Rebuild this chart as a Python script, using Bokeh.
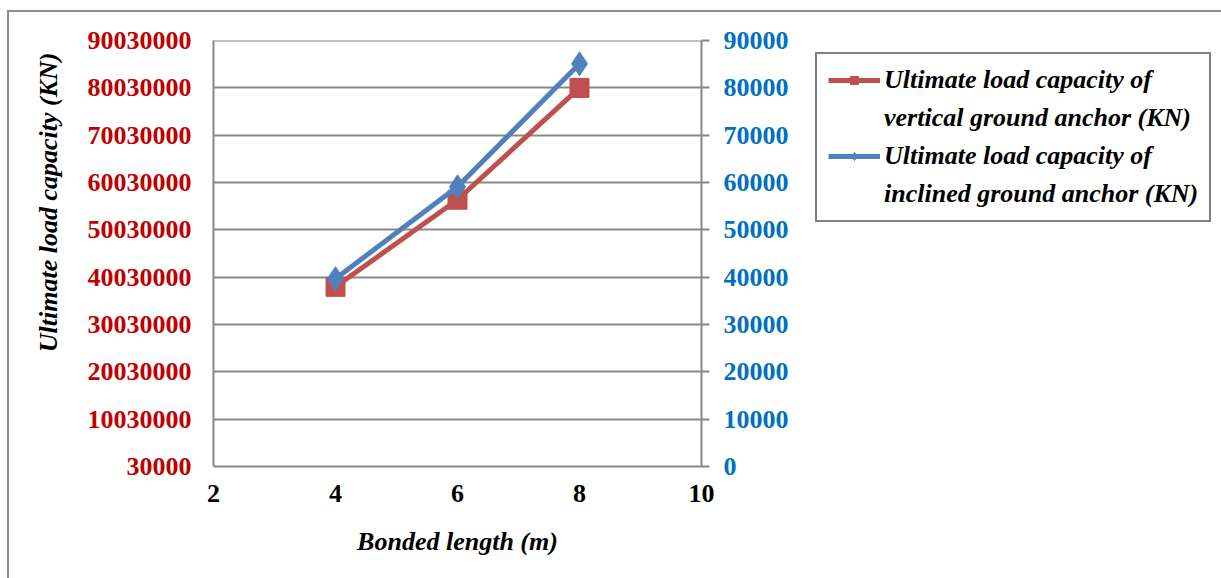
from bokeh.plotting import figure
from bokeh.layouts import row
from bokeh.models import (Range1d, LinearAxis, FixedTicker, Legend, LegendItem, Title)
from bokeh.embed import file_html
from bokeh.resources import INLINE

# ---- data ----
bonded_length = [4, 6, 8]
vertical_capacity = [38000000, 56400000, 80030000]   # left axis (red)
inclined_capacity = [39700, 59100, 85100]            # right axis (blue)

x_ticks = [2, 4, 6, 8, 10]
left_ticks = [30000, 10030000, 20030000, 30030000, 40030000, 50030000,
              60030000, 70030000, 80030000, 90030000]
right_ticks = [0, 10000, 20000, 30000, 40000, 50000, 60000, 70000, 80000, 90000]

x_title = "Bonded length (m)"
y_title = "Ultimate load capacity (KN)"
label_vertical = ["Ultimate load capacity of", "vertical ground anchor (KN)"]
label_inclined = ["Ultimate load capacity of", "inclined ground anchor (KN)"]

RED = "#C0504D"
BLUE = "#4F81BD"
GRID = "#888888"
FONT = "Liberation Serif"
FS = "26px"

# ---------- main chart ----------
p = figure(width=794, height=566, output_backend="svg", toolbar_location=None,
           x_range=Range1d(x_ticks[0], x_ticks[-1]),
           y_range=Range1d(left_ticks[0], left_ticks[-1] + 20000),
           min_border_left=200, min_border_right=102, min_border_top=28,
           min_border_bottom=112)
p.outline_line_color = None
p.background_fill_color = "white"
p.border_fill_color = "white"

p.extra_y_ranges = {"right": Range1d(right_ticks[0], right_ticks[-1] + 20)}

# x axis
xa = p.xaxis[0]
xa.ticker = FixedTicker(ticks=x_ticks)
xa.axis_label = x_title
xa.axis_label_text_font = FONT
xa.axis_label_text_font_size = FS
xa.axis_label_text_font_style = "bold italic"
xa.axis_label_text_color = "black"
xa.axis_label_standoff = 22
xa.major_label_text_font = FONT
xa.major_label_text_font_size = FS
xa.major_label_text_font_style = "bold"
xa.major_label_text_color = "black"
xa.major_label_standoff = 18
xa.major_tick_in = 0
xa.major_tick_out = 0
xa.minor_tick_in = 0
xa.minor_tick_out = 0
xa.axis_line_color = GRID
xa.axis_line_width = 2

# left axis
ya = p.yaxis[0]
ya.ticker = FixedTicker(ticks=left_ticks)
ya.major_label_overrides = {t: str(t) for t in left_ticks}
ya.major_label_text_font = FONT
ya.major_label_text_font_size = FS
ya.major_label_text_font_style = "bold"
ya.major_label_text_color = "#C00000"
ya.major_label_standoff = 22
ya.major_tick_in = 0
ya.major_tick_out = 0
ya.minor_tick_in = 0
ya.minor_tick_out = 0
ya.axis_line_color = GRID
ya.axis_line_width = 2

# left title (vertical), anchored near the top like the reference
yt = Title(text=y_title, align="right", offset=12, standoff=44,
           text_font=FONT, text_font_size=FS, text_font_style="bold italic",
           text_color="black")
p.add_layout(yt, "left")

# right axis
ra = LinearAxis(y_range_name="right", ticker=FixedTicker(ticks=right_ticks))
ra.major_label_overrides = {t: str(t) for t in right_ticks}
ra.major_label_text_font = FONT
ra.major_label_text_font_size = FS
ra.major_label_text_font_style = "bold"
ra.major_label_text_color = "#0070C0"
ra.major_label_standoff = 14
ra.major_tick_in = 0
ra.major_tick_out = 8
ra.major_tick_line_color = GRID
ra.major_tick_line_width = 2
ra.minor_tick_in = 0
ra.minor_tick_out = 0
ra.axis_line_color = GRID
ra.axis_line_width = 2
p.add_layout(ra, "right")

p.xgrid.grid_line_color = None
p.ygrid.ticker = FixedTicker(ticks=left_ticks)
p.ygrid.grid_line_color = GRID
p.ygrid.grid_line_width = 2

# series
p.line(bonded_length, vertical_capacity, line_color=RED, line_width=5)
p.scatter(bonded_length, vertical_capacity, marker="square", size=19,
          fill_color=RED, line_color=RED)
p.line(bonded_length, inclined_capacity, line_color=BLUE, line_width=5,
       y_range_name="right")
p.scatter(bonded_length, inclined_capacity, marker="diamond", size=24,
          fill_color=BLUE, line_color=BLUE, y_range_name="right")

# ---------- legend panel (separate canvas so the box is not clipped) ----------
q = figure(width=418, height=566, output_backend="svg", toolbar_location=None,
           x_axis_location=None, y_axis_location=None,
           x_range=Range1d(x_ticks[0], x_ticks[-1]),
           y_range=Range1d(left_ticks[0], left_ticks[-1]),
           min_border=0)
q.outline_line_color = None
q.grid.grid_line_color = None
q.background_fill_color = "white"
q.border_fill_color = "white"

lr_line = q.line(bonded_length, vertical_capacity, line_color=RED, line_width=5, visible=False)
lr_mark = q.scatter(bonded_length, vertical_capacity, marker="square", size=14,
                    fill_color=RED, line_color=RED, visible=False)
lb_line = q.line(bonded_length, vertical_capacity, line_color=BLUE, line_width=5, visible=False)
lb_mark = q.scatter(bonded_length, vertical_capacity, marker="diamond", size=18,
                    fill_color=BLUE, line_color=BLUE, visible=False)

legend = Legend(items=[
    LegendItem(label=label_vertical[0], renderers=[lr_line, lr_mark]),
    LegendItem(label=label_vertical[1], renderers=[]),
    LegendItem(label=label_inclined[0], renderers=[lb_line, lb_mark]),
    LegendItem(label=label_inclined[1], renderers=[]),
], location="top_left")
legend.label_text_font = FONT
legend.label_text_font_size = FS
legend.label_text_font_style = "bold italic"
legend.label_text_color = "black"
legend.border_line_color = "black"
legend.border_line_width = 2
legend.background_fill_alpha = 1
legend.inactive_fill_alpha = 0
legend.glyph_width = 52
legend.glyph_height = 20
legend.label_height = 26
legend.label_standoff = 4
legend.padding = 11
legend.spacing = 8
legend.margin = 12
q.add_layout(legend, "center")

layout = row(p, q)
layout.margin = (10, 0, 0, 7)
layout.styles = {"border-left": "2px solid #8c8c8c", "border-top": "2px solid #8c8c8c"}

open("out.html", "w").write(file_html(layout, INLINE))
